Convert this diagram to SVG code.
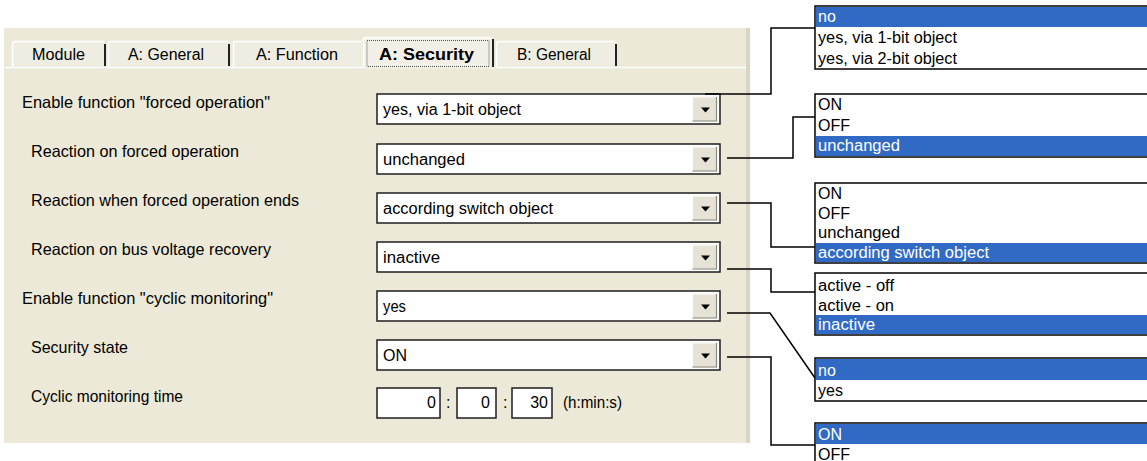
<svg xmlns="http://www.w3.org/2000/svg" xmlns:xlink="http://www.w3.org/1999/xlink" width="1147" height="461" viewBox="0 0 1147 461">
<style>
text{font-family:"Liberation Sans",Arial,sans-serif;font-size:16px;fill:#000}
.lbl{font-size:16.5px}
.tab{font-size:16px}
.bold{font-weight:bold}
.combo{fill:#fff;stroke:#1e1e1e;stroke-width:1.5}
.tbox{fill:#fff;stroke:#1e1e1e;stroke-width:1.5}
.list{fill:#fff;stroke:#000;stroke-width:1.5}
.sel{fill:#316AC5}
.st{fill:#fff}
.conn{fill:none;stroke:#000;stroke-width:1.5}
.hl{fill:none;stroke:#fff;stroke-width:1.5}
.dk{fill:none;stroke:#222;stroke-width:2}
</style>
<defs>
<g id="btn">
<rect x="0" y="0" width="25" height="25" fill="#E6E3D6"/>
<path d="M0.5,24.5 V0.5 H24.5" fill="none" stroke="#fff" stroke-width="1"/>
<path d="M0.5,24.5 H24.5 V0.5" fill="none" stroke="#8d8a7e" stroke-width="1.2"/>
<polygon points="9,11 18,11 13.5,16" fill="#000"/>
</g>
</defs>
<rect width="1147" height="461" fill="#fff"/>

<g id="panel">
<rect x="4" y="28" width="746" height="415" fill="#ECE9D8"/>
<rect x="746" y="28" width="4" height="415" fill="#D9D5C5"/>
<line x1="5" y1="67.5" x2="746" y2="67.5" stroke="#fff" stroke-width="1.5"/>
</g>

<g id="tabs">
<g id="tab-module">
<rect x="12" y="41" width="94" height="26" fill="#EFEDE2"/>
<path class="hl" d="M12.5,67 V44 Q12.5,41.5 15,41.5 H104"/>
<line class="dk" x1="105" y1="44" x2="105" y2="66"/>
<text class="tab" x="32" y="60" textLength="53" lengthAdjust="spacingAndGlyphs">Module</text>
</g>
<g id="tab-a-general">
<rect x="108" y="41" width="122" height="26" fill="#EFEDE2"/>
<path class="hl" d="M108.5,67 V44 Q108.5,41.5 111,41.5 H228"/>
<line class="dk" x1="229" y1="44" x2="229" y2="66"/>
<text class="tab" x="128" y="60" textLength="76" lengthAdjust="spacingAndGlyphs">A: General</text>
</g>
<g id="tab-a-function">
<rect x="233" y="41" width="129" height="26" fill="#EFEDE2"/>
<path class="hl" d="M233.5,67 V44 Q233.5,41.5 236,41.5 H362"/>
<text class="tab" x="256" y="60" textLength="82" lengthAdjust="spacingAndGlyphs">A: Function</text>
</g>
<g id="tab-a-security">
<rect x="363" y="37" width="130" height="31" fill="#F2F0E6"/>
<path class="hl" d="M363.5,68 V40 Q363.5,37.5 366,37.5 H491"/>
<line class="dk" x1="493" y1="39" x2="493" y2="67"/>
<rect x="367" y="40.5" width="122" height="26" fill="none" stroke="#555" stroke-width="1" stroke-dasharray="1,1"/>
<text class="tab bold" x="379" y="60" textLength="95" lengthAdjust="spacingAndGlyphs">A: Security</text>
</g>
<g id="tab-b-general">
<rect x="496" y="41" width="120" height="26" fill="#EFEDE2"/>
<path class="hl" d="M496.5,67 V44 Q496.5,41.5 499,41.5 H614"/>
<line class="dk" x1="616" y1="44" x2="616" y2="66"/>
<text class="tab" x="517" y="60" textLength="74" lengthAdjust="spacingAndGlyphs">B: General</text>
</g>
</g>

<g id="row-forced-operation">
<text class="lbl" x="22" y="108" textLength="248" lengthAdjust="spacingAndGlyphs">Enable function "forced operation"</text>
<rect class="combo" x="377" y="94" width="343" height="30"/>
<use xlink:href="#btn" x="692" y="96.5"/>
<text x="383" y="115" textLength="138" lengthAdjust="spacingAndGlyphs">yes, via 1-bit object</text>
</g>

<g id="row-reaction-forced">
<text class="lbl" x="31" y="157" textLength="208" lengthAdjust="spacingAndGlyphs">Reaction on forced operation</text>
<rect class="combo" x="377" y="144" width="343" height="30"/>
<use xlink:href="#btn" x="692" y="146.5"/>
<text x="383" y="165" textLength="82" lengthAdjust="spacingAndGlyphs">unchanged</text>
</g>

<g id="row-reaction-ends">
<text class="lbl" x="31" y="206" textLength="268" lengthAdjust="spacingAndGlyphs">Reaction when forced operation ends</text>
<rect class="combo" x="377" y="193" width="343" height="30"/>
<use xlink:href="#btn" x="692" y="195.5"/>
<text x="383" y="214" textLength="170" lengthAdjust="spacingAndGlyphs">according switch object</text>
</g>

<g id="row-bus-voltage">
<text class="lbl" x="31" y="255" textLength="240" lengthAdjust="spacingAndGlyphs">Reaction on bus voltage recovery</text>
<rect class="combo" x="377" y="242" width="343" height="30"/>
<use xlink:href="#btn" x="692" y="244.5"/>
<text x="383" y="263" textLength="57" lengthAdjust="spacingAndGlyphs">inactive</text>
</g>

<g id="row-cyclic-monitoring">
<text class="lbl" x="22" y="304" textLength="251" lengthAdjust="spacingAndGlyphs">Enable function "cyclic monitoring"</text>
<rect class="combo" x="377" y="291" width="343" height="30"/>
<use xlink:href="#btn" x="692" y="293.5"/>
<text x="383" y="312" textLength="23" lengthAdjust="spacingAndGlyphs">yes</text>
</g>

<g id="row-security-state">
<text class="lbl" x="31" y="353" textLength="97" lengthAdjust="spacingAndGlyphs">Security state</text>
<rect class="combo" x="377" y="340" width="343" height="30"/>
<use xlink:href="#btn" x="692" y="342.5"/>
<text x="383" y="361">ON</text>
</g>

<g id="row-monitoring-time">
<text class="lbl" x="31" y="402" textLength="152" lengthAdjust="spacingAndGlyphs">Cyclic monitoring time</text>
<rect class="tbox" x="377" y="388" width="63" height="30"/>
<text x="436" y="408" text-anchor="end">0</text>
<text x="446" y="408">:</text>
<rect class="tbox" x="457" y="388" width="39" height="30"/>
<text x="490" y="408" text-anchor="end">0</text>
<text x="503" y="408">:</text>
<rect class="tbox" x="512" y="388" width="40" height="30"/>
<text x="548" y="408" text-anchor="end">30</text>
<text x="563" y="408" textLength="59" lengthAdjust="spacingAndGlyphs">(h:min:s)</text>
</g>

<g id="list-forced-operation">
<rect class="list" x="815" y="6" width="340" height="63"/>
<rect class="sel" x="816" y="7" width="335" height="20"/>
<text class="st" x="818" y="22">no</text>
<text x="818" y="43" textLength="139" lengthAdjust="spacingAndGlyphs">yes, via 1-bit object</text>
<text x="818" y="64" textLength="139" lengthAdjust="spacingAndGlyphs">yes, via 2-bit object</text>
</g>

<g id="list-reaction-forced">
<rect class="list" x="815" y="94" width="340" height="63"/>
<rect class="sel" x="816" y="136" width="335" height="20"/>
<text x="818" y="110">ON</text>
<text x="818" y="131">OFF</text>
<text class="st" x="818" y="151" textLength="82" lengthAdjust="spacingAndGlyphs">unchanged</text>
</g>

<g id="list-reaction-ends">
<rect class="list" x="815" y="183" width="340" height="80"/>
<rect class="sel" x="816" y="243" width="335" height="19"/>
<text x="818" y="199">ON</text>
<text x="818" y="219">OFF</text>
<text x="818" y="238" textLength="82" lengthAdjust="spacingAndGlyphs">unchanged</text>
<text class="st" x="818" y="258" textLength="171" lengthAdjust="spacingAndGlyphs">according switch object</text>
</g>

<g id="list-bus-voltage">
<rect class="list" x="815" y="273" width="340" height="62"/>
<rect class="sel" x="816" y="315" width="335" height="19"/>
<text x="818" y="291" textLength="76" lengthAdjust="spacingAndGlyphs">active - off</text>
<text x="818" y="311" textLength="76" lengthAdjust="spacingAndGlyphs">active - on</text>
<text class="st" x="818" y="330" textLength="57" lengthAdjust="spacingAndGlyphs">inactive</text>
</g>

<g id="list-cyclic-monitoring">
<rect class="list" x="815" y="358" width="340" height="43"/>
<rect class="sel" x="816" y="359" width="335" height="21"/>
<text class="st" x="818" y="376">no</text>
<text x="818" y="396">yes</text>
</g>

<g id="list-security-state">
<rect class="list" x="815" y="423" width="340" height="60"/>
<rect class="sel" x="816" y="424" width="335" height="20"/>
<text class="st" x="818" y="440">ON</text>
<text x="818" y="460">OFF</text>
</g>

<g id="connectors">
<path class="conn" d="M705,94 H771 V28 H815"/>
<path class="conn" d="M727,158 H793 V117 H815"/>
<path class="conn" d="M727,203 H771 V247 H815"/>
<path class="conn" d="M727,269 H771 V292 H815"/>
<path class="conn" d="M727,313 H770 L815,378"/>
<path class="conn" d="M727,357 H771 V445 H815"/>
</g>
</svg>
